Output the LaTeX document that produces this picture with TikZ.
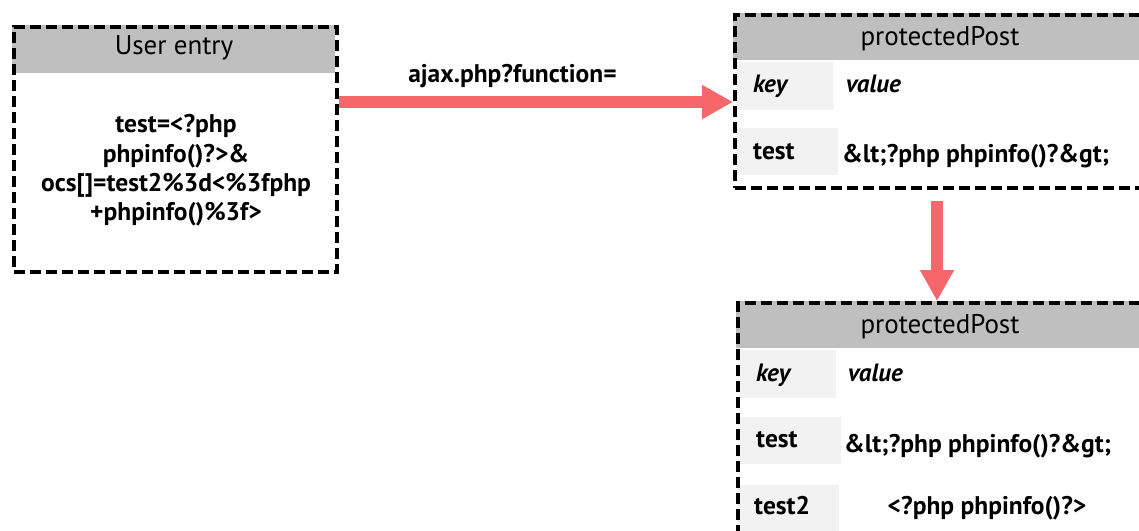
\documentclass[tikz,border=0pt]{standalone}
\usepackage{fontspec}
\setmainfont{PT Sans}
\usetikzlibrary{arrows.meta,calc}
\definecolor{hdrgray}{RGB}{191,191,191}
\definecolor{cellgray}{RGB}{242,242,242}
\definecolor{arrowred}{RGB}{246,102,106}
\tikzset{
  boxborder/.style={draw=black, line width=4.2pt, dash pattern=on 11pt off 5pt},
  bigarrow/.style={draw=arrowred, line width=12pt, -{Triangle[length=31pt,width=32pt]}},
  hdrtext/.style={font=\fontsize{27}{30}\selectfont, inner sep=0pt},
  bodytext/.style={font=\fontsize{25.5}{28}\selectfont\bfseries, inner sep=0pt},
  kvtext/.style={font=\fontsize{25}{28}\selectfont\bfseries\itshape, inner sep=0pt},
}
\begin{document}
\begin{tikzpicture}[x=1pt,y=-1pt]
\useasboundingbox (0,0) rectangle (1139,530);
\fill[white] (0,0) rectangle (1139,530);

% ---------- User entry box
\fill[hdrgray] (12,25) rectangle (335,73);
\node[hdrtext, anchor=base] (uetitle) at (174,54) {User entry};
\node[bodytext, anchor=base] (ul1) at (176,132) {test=<?php};
\node[bodytext, anchor=base] (ul2) at (176,162) {phpinfo()?>\&};
\node[bodytext, anchor=base] (ul3) at (176,191) {ocs[]=test2\%3d<\%3fphp};
\node[bodytext, anchor=base] (ul4) at (176,220) {+phpinfo()\%3f>};
\node[boxborder, anchor=north west, minimum width=323pt, minimum height=245pt, inner sep=0pt] (ue) at (12,25) {};

% ---------- protectedPost box 1
\fill[hdrgray] (733,13) rectangle (1145,60);
\fill[cellgray] (737,62) rectangle (833,110);
\fill[cellgray] (737,128) rectangle (838,175);
\node[hdrtext, anchor=base] (p1title) at (940,45) {protectedPost};
\node[kvtext, anchor=base west] (p1key) at (753,92) {key};
\node[kvtext, anchor=base west] (p1val) at (846,92) {value};
\node[bodytext, anchor=base west] (p1test) at (753,159) {test};
\node[bodytext, anchor=base west] (p1tv) at (842,162) {\&lt;?php phpinfo()?\&gt;};
\node[boxborder, anchor=north west, minimum width=420pt, minimum height=173pt, inner sep=0pt] (pp1) at (733,13) {};

% ---------- protectedPost box 2
\fill[hdrgray] (736,301) rectangle (1145,348);
\fill[cellgray] (740,350) rectangle (836,398);
\fill[cellgray] (740,417) rectangle (841,464);
\fill[cellgray] (737,485) rectangle (839,540);
\node[hdrtext, anchor=base] (p2title) at (940,333) {protectedPost};
\node[kvtext, anchor=base west] (p2key) at (756,381) {key};
\node[kvtext, anchor=base west] (p2val) at (848,381) {value};
\node[bodytext, anchor=base west] (p2test) at (756,447) {test};
\node[bodytext, anchor=base west] (p2tv) at (844,452) {\&lt;?php phpinfo()?\&gt;};
\node[bodytext, anchor=base west] (p2test2) at (754,514) {test2};
\node[bodytext, anchor=base] (p2tv2) at (987,514) {<?php phpinfo()?>};
\node[boxborder, anchor=north west, minimum width=420pt, minimum height=250pt, inner sep=0pt] (pp2) at (736,301) {};

% ---------- arrows
\draw[bigarrow] (ue.east |- 0,102) -- node[bodytext, anchor=base, pos=0.44, yshift=20pt] (lbl) {ajax.php?function=} (pp1.west |- 0,102);
\draw[bigarrow] (pp1.south -| 937,0) ++(0,11) -- (pp2.north -| 937,0);
\end{tikzpicture}
\end{document}
